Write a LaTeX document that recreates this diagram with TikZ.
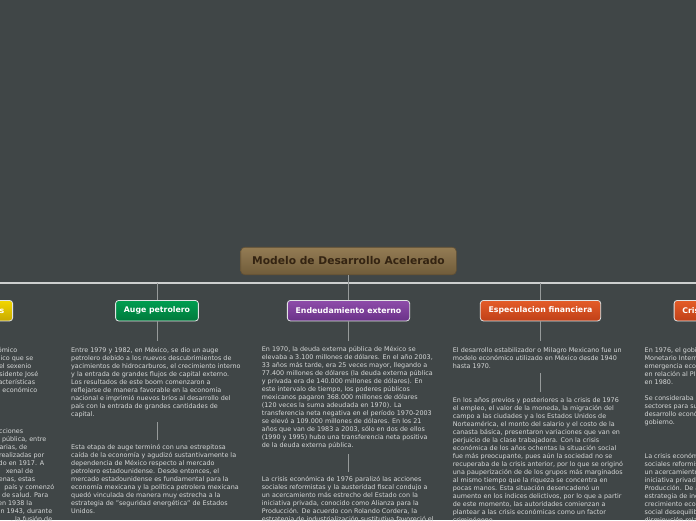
\documentclass[tikz,border=0pt]{standalone}
\usepackage{fontspec}
\setmainfont{DejaVu Sans}
\definecolor{bg}{RGB}{64,70,71}
\definecolor{bodytext}{RGB}{214,216,216}
\definecolor{buscol}{RGB}{205,207,207}
\definecolor{conncol}{RGB}{150,154,154}
\definecolor{boxedge}{RGB}{225,228,228}
\definecolor{roottop}{RGB}{148,124,84}
\definecolor{rootbot}{RGB}{112,92,58}
\definecolor{rootedge}{RGB}{98,80,52}
\definecolor{roottext}{RGB}{52,36,18}
\definecolor{greentop}{RGB}{0,158,80}
\definecolor{greenbot}{RGB}{0,122,60}
\definecolor{purpletop}{RGB}{142,76,170}
\definecolor{purplebot}{RGB}{106,50,136}
\definecolor{orangetop}{RGB}{228,92,40}
\definecolor{orangebot}{RGB}{192,64,24}
\definecolor{yellowtop}{RGB}{242,214,0}
\definecolor{yellowbot}{RGB}{200,170,0}
\newcommand\mmbody{\fontsize{6.4pt}{8pt}\selectfont}
\newcommand\mmtopic{\fontsize{7.8pt}{9pt}\selectfont\bfseries}
\newcommand\mmroot{\fontsize{10.7pt}{12pt}\selectfont\bfseries}
\newcommand\mmfirst{\rule{0pt}{6pt}}
\newcommand\mmfrag[2]{\hspace*{#1pt}\llap{#2}}
\tikzset{
  rootbox/.style={rounded corners=4pt, top color=roottop, bottom color=rootbot,
    draw=rootedge, line width=0.6pt, text=roottext, font=\mmroot,
    minimum width=215.6pt, minimum height=27.5pt, inner sep=0pt},
  topic/.style={rounded corners=3pt, draw=boxedge, line width=0.8pt, text=white,
    font=\mmtopic, minimum height=20.5pt, inner xsep=8.3pt, inner ysep=0pt},
  green topic/.style={topic, top color=greentop, bottom color=greenbot},
  purple topic/.style={topic, top color=purpletop, bottom color=purplebot},
  orange topic/.style={topic, top color=orangetop, bottom color=orangebot},
  yellow topic/.style={topic, top color=yellowtop, bottom color=yellowbot},
  body/.style={anchor=north west, inner sep=0pt, align=left, text=bodytext, font=\mmbody},
  bus/.style={draw=buscol, line width=1.4pt},
  conn/.style={draw=conncol, line width=1pt},
  tail/.style={conn, shorten >=4.5pt},
  link/.style={conn, shorten <=4.5pt, shorten >=3.5pt}
}
\begin{document}
\begin{tikzpicture}[x=1pt,y=-1pt]
\useasboundingbox (0,0) rectangle (696,520);
\fill[bg] (0,0) rectangle (696,520);
\clip (0,0) rectangle (696,520);

% bus
\coordinate (busW) at (-40,283);
\coordinate (busE) at (740,283);

% root
\node[rootbox] (root) at (348.5,261) {Modelo de Desarrollo Acelerado};

% topics
\node[yellow topic, anchor=east] (ante) at (13,310.7) {Antecedentes};
\node[green topic] (auge) at (157,310.7) {Auge petrolero};
\node[purple topic] (endeu) at (348.5,310.7) {Endeudamiento externo};
\node[orange topic] (espec) at (540.5,310.7) {Especulacion financiera};
\node[orange topic, anchor=west] (cris) at (673.7,310.7) {Crisis económica};

% bus connectors
\draw[bus] (busW) -- (busE);
\draw[conn] (root.south) -- (root.south |- busW);
\draw[conn] (auge.north) -- (auge.north |- busW);
\draw[conn] (endeu.north) -- (endeu.north |- busW);
\draw[conn] (espec.north) -- (espec.north |- busW);

% left column (clipped)
\node[body] (l1) at (0,346.5) {\mmfirst\mmfrag{17}{económico}\\
\mmfrag{33}{ico que se}\\
\mmfrag{31}{el sexenio}\\
\mmfrag{38}{presidente José}\\
\mmfrag{35}{características}\\
\mmfrag{37}{económico}};
\node[body] (l2) at (0,427.3) {\mmfirst\mmfrag{23}{acciones}\\
\mmfrag{46}{pública, entre}\\
\mmfrag{27}{arias, de}\\
\mmfrag{44}{realizadas por}\\
\mmfrag{44}{do en 1917. A}\\
\mmfrag{33}{xenal de}\\
\mmfrag{35}{enas, estas}\\
\mmfrag{54}{país y comenzó}\\
\mmfrag{48}{de salud. Para}\\
\mmfrag{32}{en 1938 la}\\
\mmfrag{52}{n 1943, durante}\\
\mmfrag{52}{, la fusión de}};

% Auge petrolero
\node[body] (a1) at (71,345.8) {\mmfirst Entre 1979 y 1982, en México, se dio un auge\\
petrolero debido a los nuevos descubrimientos de\\
yacimientos de hidrocarburos, el crecimiento interno\\
y la entrada de grandes flujos de capital externo.\\
Los resultados de este boom comenzaron a\\
reflejarse de manera favorable en la economía\\
nacional e imprimió nuevos bríos al desarrollo del\\
país con la entrada de grandes cantidades de\\
capital.};
\node[body] (a2) at (71,443.3) {\mmfirst Esta etapa de auge terminó con una estrepitosa\\
caída de la economía y agudizó sustantivamente la\\
dependencia de México respecto al mercado\\
petrolero estadounidense. Desde entonces, el\\
mercado estadounidense es fundamental para la\\
economía mexicana y la política petrolera mexicana\\
quedó vinculada de manera muy estrecha a la\\
estrategia de "seguridad energética" de Estados\\
Unidos.};
\draw[tail] (auge.south) -- (auge.south |- a1.north);
\draw[link] (auge.south |- a1.south) -- (auge.south |- a2.north);

% Endeudamiento externo
\node[body] (e1) at (261.7,345.6) {\mmfirst En 1970, la deuda externa pública de México se\\
elevaba a 3.100 millones de dólares. En el año 2003,\\
33 años más tarde, era 25 veces mayor, llegando a\\
77.400 millones de dólares (la deuda externa pública\\
y privada era de 140.000 millones de dólares). En\\
este intervalo de tiempo, los poderes públicos\\
mexicanos pagaron 368.000 millones de dólares\\
(120 veces la suma adeudada en 1970). La\\
transferencia neta negativa en el período 1970-2003\\
se elevó a 109.000 millones de dólares. En los 21\\
años que van de 1983 a 2003, sólo en dos de ellos\\
(1990 y 1995) hubo una transferencia neta positiva\\
de la deuda externa pública.};
\node[body] (e2) at (261.7,475.6) {\mmfirst La crisis económica de 1976 paralizó las acciones\\
sociales reformistas y la austeridad fiscal condujo a\\
un acercamiento más estrecho del Estado con la\\
iniciativa privada, conocido como Alianza para la\\
Producción. De acuerdo con Rolando Cordera, la\\
estrategia de industrialización sustitutiva favoreció el};
\draw[tail] (endeu.south) -- (endeu.south |- e1.north);
\draw[link] (endeu.south |- e1.south) -- (endeu.south |- e2.north);

% Especulacion financiera
\node[body] (s1) at (452.7,345.8) {\mmfirst El desarrollo estabilizador o Milagro Mexicano fue un\\
modelo económico utilizado en México desde 1940\\
hasta 1970.};
\node[body] (s2) at (452.7,395.9) {\mmfirst En los años previos y posteriores a la crisis de 1976\\
el empleo, el valor de la moneda, la migración del\\
campo a las ciudades y a los Estados Unidos de\\
Norteamérica, el monto del salario y el costo de la\\
canasta básica, presentaron variaciones que van en\\
perjuicio de la clase trabajadora. Con la crisis\\
económica de los años ochentas la situación social\\
fue más preocupante, pues aún la sociedad no se\\
recuperaba de la crisis anterior, por lo que se originó\\
una pauperización de de los grupos más marginados\\
al mismo tiempo que la riqueza se concentra en\\
pocas manos. Esta situación desencadenó un\\
aumento en los índices delictivos, por lo que a partir\\
de este momento, las autoridades comienzan a\\
plantear a las crisis económicas como un factor\\
criminógeno.};
\draw[tail] (espec.south) -- (espec.south |- s1.north);
\draw[link] (espec.south |- s1.south) -- (espec.south |- s2.north);

% Crisis (clipped at right)
\node[body] (c1) at (644.5,345.8) {\mmfirst En 1976, el gobierno\\
Monetario Internacional\\
emergencia económica\\
en relación al PIB\\
en 1980.\\[8pt]
Se consideraba\\
sectores para su\\
desarrollo económico\\
gobierno.};
\node[body] (c2) at (644.5,451.9) {\mmfirst La crisis económica de 1976 paralizó las acciones\\
sociales reformistas y la austeridad fiscal condujo a\\
un acercamiento más estrecho del Estado con la\\
iniciativa privada, conocido como Alianza para la\\
Producción. De acuerdo con Rolando Cordera, la\\
estrategia de industrialización sustitutiva favoreció el\\
crecimiento económico\\
social desequilibrado\\
disminución relativa};
\end{tikzpicture}
\end{document}
